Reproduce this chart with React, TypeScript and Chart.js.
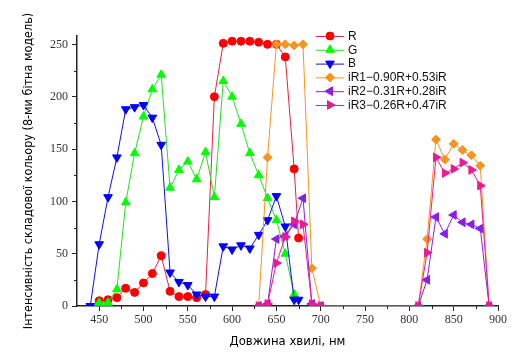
import React, { useEffect, useRef } from "react";
import { Chart, registerables } from "chart.js";
import { drawPoint } from "chart.js/helpers";

Chart.register(...registerables);

// ---- data ----
const rWave = [450, 460, 470, 480, 490, 500, 510, 520, 530, 540, 550, 560, 570, 580, 590, 600, 610, 620, 630, 640, 650, 660, 670, 675];
const rVals = [5, 6, 8, 17, 13, 22, 31, 48, 14, 9, 9, 8, 11, 200, 251, 253, 253, 253, 252, 250, 250, 238, 131, 65];

const gWave = [450, 460, 470, 480, 490, 500, 510, 520, 530, 540, 550, 560, 570, 580, 590, 600, 610, 620, 630, 640, 650, 660, 670];
const gVals = [3, 3, 16, 99, 146, 181, 207, 221, 113, 130, 138, 121, 147, 104, 215, 200, 174, 146, 125, 103, 82, 50, 11];

const bWave = [440, 450, 460, 470, 480, 490, 500, 510, 520, 530, 540, 550, 560, 570, 580, 590, 600, 610, 620, 630, 640, 650, 660, 670, 675];
const bVals = [0, 59, 104, 142, 188, 190, 192, 180, 154, 32, 23, 20, 11, 9, 9, 57, 54, 58, 55, 68, 82, 105, 76, 6, 6];

const irWave = [630, 640, 650, 660, 670, 680, 690, 700, 810, 820, 830, 840, 850, 860, 870, 880, 890];
const ir1Vals = [0, 142, 250, 250, 249, 250, 36, 0, 0, 64, 159, 140, 155, 149, 144, 134, 0];
const ir2Vals = [0, 2, 64, 67, 78, 103, 2, 0, 0, 25, 85, 69, 87, 80, 78, 74, 0];
const ir3Vals = [0, 2, 41, 66, 81, 78, 2, 0, 0, 51, 142, 127, 131, 137, 130, 115, 0];

const seriesLabels = ["R", "G", "B", "iR1−0.90R+0.53iR", "iR2−0.31R+0.28iR", "iR3−0.26R+0.47iR"];
const xTitle = "Довжина хвилі, нм";
const yTitle = "Інтенсивність складової кольору (8-ми бітна модель)";

function pts(w: number[], v: number[]) {
  return w.map((x, i) => ({ x, y: v[i] }));
}

const minorTicks = {
  id: "minorTicks",
  afterDraw(chart: any) {
    const ctx = chart.ctx;
    const xs = chart.scales.x;
    const ys = chart.scales.y;
    ctx.save();
    ctx.strokeStyle = "#222";
    ctx.lineWidth = 1;
    ctx.beginPath();
    for (let v = 475; v < 900; v += 50) {
      const px = Math.round(xs.getPixelForValue(v)) + 0.5;
      ctx.moveTo(px, xs.top);
      ctx.lineTo(px, xs.top + 3);
    }
    for (let v = 25; v < 258; v += 50) {
      const py = Math.round(ys.getPixelForValue(v)) + 0.5;
      ctx.moveTo(ys.right, py);
      ctx.lineTo(ys.right - 3, py);
    }
    ctx.stroke();
    ctx.restore();
  },
};

const insetLegend = {
  id: "insetLegend",
  afterDraw(chart: any) {
    const ctx = chart.ctx;
    ctx.save();
    chart.data.datasets.forEach((ds: any, i: number) => {
      const y = 36 + i * 13.8;
      ctx.strokeStyle = ds.borderColor;
      ctx.lineWidth = 1;
      ctx.beginPath();
      ctx.moveTo(316, y + 0.5);
      ctx.lineTo(344, y + 0.5);
      ctx.stroke();
      ctx.fillStyle = ds.pointBackgroundColor;
      ctx.strokeStyle = ds.pointBorderColor;
      drawPoint(ctx, { pointStyle: ds.pointStyle, rotation: ds.pointRotation || 0, radius: ds.pointRadius, borderWidth: 1 }, 330, y);
      ctx.fillStyle = "#111";
      ctx.font = "12px 'Liberation Sans', Arial, sans-serif";
      ctx.textAlign = "left";
      ctx.textBaseline = "middle";
      ctx.fillText(ds.label, 348, y + 0.5);
    });
    ctx.restore();
  },
};

function mk(label: string, data: any, line: string, fill: string, style: string, radius: number, rot: number, order: number) {
  return {
    label,
    data,
    borderColor: line,
    backgroundColor: fill,
    borderWidth: 1,
    pointStyle: style,
    pointRadius: radius,
    pointRotation: rot,
    pointBackgroundColor: fill,
    pointBorderColor: fill,
    pointBorderWidth: 1,
    tension: 0,
    fill: false,
    order,
  };
}

export default function App() {
  const ref = useRef<HTMLCanvasElement | null>(null);
  useEffect(() => {
    document.body.style.margin = "0";
    if (!ref.current) return;
    const chart = new Chart(ref.current, {
      type: "line",
      data: {
        datasets: [
          mk(seriesLabels[0], pts(rWave, rVals), "#e8203c", "#ff0000", "circle", 4, 0, 6),
          mk(seriesLabels[1], pts(gWave, gVals), "#22e022", "#00ff00", "triangle", 5, 0, 5),
          mk(seriesLabels[2], pts(bWave, bVals), "#1010e8", "#0000ff", "triangle", 5, 180, 4),
          mk(seriesLabels[3], pts(irWave, ir1Vals), "#f7941d", "#f7941d", "rectRot", 4.5, 0, 3),
          mk(seriesLabels[4], pts(irWave, ir2Vals), "#8a1ee6", "#8a1ee6", "triangle", 5, 270, 2),
          mk(seriesLabels[5], pts(irWave, ir3Vals), "#ee1890", "#ee1890", "triangle", 5, 90, 1),
        ] as any,
      },
      options: {
        responsive: false,
        animation: false,
        layout: { padding: { left: 0, right: 28, top: 36, bottom: 0 } },
        plugins: { legend: { display: false }, tooltip: { enabled: false } },
        scales: {
          x: {
            type: "linear",
            min: 425,
            max: 900,
            afterFit(scale: any) {
              scale.height = 52;
            },
            ticks: {
              stepSize: 50,
              includeBounds: false,
              padding: 2,
              maxRotation: 0,
              autoSkip: false,
              color: "#333",
              font: { family: "'Liberation Serif', 'Times New Roman', serif", size: 12 },
            },
            grid: { drawOnChartArea: false, drawTicks: true, tickLength: 5, color: "#222", tickWidth: 1 },
            border: { display: true, color: "#222", width: 1.5 },
            title: {
              display: true,
              text: xTitle,
              color: "#000",
              font: { family: "'Liberation Sans Narrow', 'DejaVu Sans Condensed', Arial, sans-serif", size: 13 },
              padding: { top: 0, bottom: 9 },
            },
          },
          y: {
            type: "linear",
            min: 0,
            max: 258,
            afterFit(scale: any) {
              scale.width = 77;
            },
            ticks: {
              stepSize: 50,
              includeBounds: false,
              padding: 4,
              color: "#333",
              font: { family: "'Liberation Serif', 'Times New Roman', serif", size: 12 },
            },
            grid: { drawOnChartArea: false, drawTicks: true, tickLength: 5, color: "#222", tickWidth: 1 },
            border: { display: true, color: "#222", width: 1.5 },
            title: {
              display: true,
              text: yTitle,
              color: "#000",
              font: { family: "'Liberation Sans Narrow', 'DejaVu Sans Condensed', Arial, sans-serif", size: 12.5 },
              padding: { top: 21, bottom: 0 },
            },
          },
        },
      },
      plugins: [minorTicks, insetLegend],
    });
    return () => chart.destroy();
  }, []);
  return (
    <div style={{ width: 526, height: 358, background: "#fff" }}>
      <canvas ref={ref} width={526} height={358} style={{ display: "block" }} />
    </div>
  );
}
